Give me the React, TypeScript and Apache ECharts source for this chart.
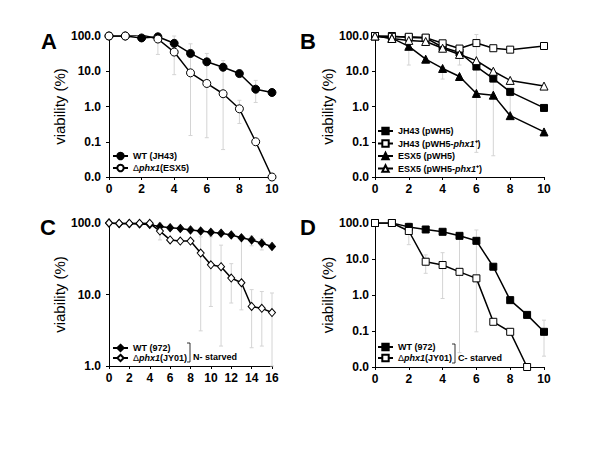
import React, { useEffect, useRef } from "react";
import * as echarts from "echarts";

// ---- Data ----
const xA = [0, 1, 2, 3, 4, 5, 6, 7, 8, 9, 10];
const aWT = [100, 100, 88, 95, 62, 32, 18.5, 13, 8.6, 3.1, 2.5];
const aKO = [100, 100, 108, 82, 35, 9, 4.5, 2.3, 0.86, 0.1, 0.01];
const aErrX = [3, 4, 5, 6, 7, 8, 9];
const aErrLo = [30, 8, 0.15, 0.13, 0.06, 0.33, 1.3];
const aErrHi = [110, 100, 60, 32, 20, 1.5, 5.5];

const xB = [0, 1, 2, 3, 4, 5, 6, 7, 8, 10];
const bJH = [100, 100, 90, 88, 48, 34, 13.6, 6.2, 2.6, 0.91];
const bJHphx = [100, 95, 95, 90, 62, 44, 63, 45, 41, 52];
const bESX = [100, 87, 51, 22, 12, 7.1, 2.35, 2.1, 0.55, 0.19];
const bESXphx = [100, 85, 75, 70, 45, 30, 20, 10, 5.5, 3.8];
const bErrX = [2, 4, 5, 6, 7, 8];
const bErrLo = [15, 6, 15, 0.05, 0.04, 0.5];
const bErrHi = [100, 13, 50, 110, 5, 2];

const xC = [0, 1, 2, 3, 4, 5, 6, 7, 8, 9, 10, 11, 12, 13, 14, 15, 16];
const cWT = [100, 98, 98, 97, 95, 89, 86, 84, 80, 77, 74, 72, 68, 62, 58, 52, 47];
const cKO = [100, 99, 99, 99, 99, 77, 58, 56, 56, 38, 26, 24.5, 17, 14.6, 6.8, 6.4, 5.6];
const cErrX = [5, 9, 10, 11, 12, 13, 14, 15, 16, 15, 14];
const cErrLo = [58, 3.1, 6.8, 1.9, 7.6, 6.1, 1.8, 1.9, 1.0, 42, 48];
const cErrHi = [100, 64, 64, 49, 27, 64, 11.7, 11, 10.5, 60, 66];

const xD = [0, 1, 2, 3, 4, 5, 6, 7, 8, 9, 10];
const dWT = [100, 100, 78, 66, 57, 44, 32, 6.1, 0.72, 0.28, 0.095];
const dKO = [100, 100, 60, 8.4, 6.8, 4.4, 2.9, 0.18, 0.095, 0.01];
const dErrX = [2, 3, 4, 5, 6, 10];
const dErrLo = [25, 4, 0.8, 0.025, 0.095, 0.02];
const dErrHi = [100, 13, 15, 41, 64, 0.2];

const yTicksLog = ["0.0", "0.1", "1.0", "10.0", "100.0"];

const FONT = "'Liberation Sans', Arial, sans-serif";

const pairs = (xs: number[], ys: number[]) => ys.map((y, i) => [xs[i], y]);
const errs = (xs: number[], lo: number[], hi: number[]) => xs.map((x, i) => [x, lo[i], hi[i]]);

const legendNames: Record<string, string> = {
  "A-WT": "{b|WT (JH43)}",
  "A-KO": "{n|Δ}{i|phx1}{b|(ESX5)}",
  "B-1": "{b|JH43 (pWH5)}",
  "B-2": "{b|JH43 (pWH5-}{i|phx1}{b|⁺)}",
  "B-3": "{b|ESX5 (pWH5)}",
  "B-4": "{b|ESX5 (pWH5-}{i|phx1}{b|⁺)}",
  "C-WT": "{b|WT (972)}",
  "C-KO": "{n|Δ}{i|phx1}{b|(JY01)}",
  "D-WT": "{b|WT (972)}",
  "D-KO": "{n|Δ}{i|phx1}{b|(JY01)}",
};

export default function App() {
  const ref = useRef<HTMLDivElement>(null);
  useEffect(() => {
    if (!ref.current) return;
    const chart = echarts.init(ref.current, null, { renderer: "svg" });

    const grids = [
      { left: 109, right: 328, top: 36, bottom: 273 },
      { left: 375, right: 56, top: 36, bottom: 273 },
      { left: 109, right: 328, top: 223, bottom: 84 },
      { left: 375, right: 56, top: 223, bottom: 83 },
    ];
    const xMax = [10, 10, 16, 10];
    const yMin = [0.01, 0.01, 1, 0.01];
    const labelMargin = [8, 6, 8, 6];
    const nameGap = [36, 40, 36, 40];

    const rich = {
      b: { fontSize: 9, fontWeight: "bold", fontFamily: FONT, color: "#000", lineHeight: 10 },
      n: { fontSize: 9, fontWeight: "normal", fontFamily: FONT, color: "#000", lineHeight: 10 },
      i: { fontSize: 9, fontWeight: "bold", fontStyle: "italic", fontFamily: FONT, color: "#000", lineHeight: 10 },
    };

    const lineSeries = (name: string, idx: number, data: number[][], symbol: string, size: any, filled: boolean) => ({
      name,
      type: "line",
      xAxisIndex: idx,
      yAxisIndex: idx,
      data,
      symbol,
      symbolSize: size,
      z: 3,
      lineStyle: { color: "#000", width: 1.5 },
      itemStyle: filled
        ? { color: "#000", borderColor: "#000", borderWidth: 1 }
        : { color: "#fff", borderColor: "#000", borderWidth: 1 },
    });

    const errSeries = (idx: number, data: number[][]) => ({
      type: "custom",
      xAxisIndex: idx,
      yAxisIndex: idx,
      z: 1,
      encode: { x: 0, y: [1, 2] },
      data,
      renderItem: (_p: any, api: any) => {
        const x = api.value(0);
        const p1 = api.coord([x, api.value(1)]);
        const p2 = api.coord([x, api.value(2)]);
        const st = { stroke: "#d4d4d4", lineWidth: 1 };
        return {
          type: "group",
          children: [
            { type: "line", shape: { x1: p1[0], y1: p1[1], x2: p2[0], y2: p2[1] }, style: st },
            { type: "line", shape: { x1: p1[0] - 2, y1: p1[1], x2: p1[0] + 2, y2: p1[1] }, style: st },
            { type: "line", shape: { x1: p2[0] - 2, y1: p2[1], x2: p2[0] + 2, y2: p2[1] }, style: st },
          ],
        };
      },
    });

    const legendBase = {
      orient: "vertical",
      itemWidth: 15,
      itemHeight: 8,
      padding: 0,
      textStyle: { fontSize: 9, fontWeight: "bold", fontFamily: FONT, color: "#000", lineHeight: 10, rich },
      formatter: (n: string) => legendNames[n] || n,
      selectedMode: false,
    };

    const letter = (t: string, x: number, y: number) => ({
      type: "text",
      x,
      y,
      style: { text: t, font: `bold 22px ${FONT}`, fill: "#000", textAlign: "center", textVerticalAlign: "middle" },
    });

    const bracket = (x: number, y1: number, y2: number) => ({
      type: "polyline",
      shape: { points: [[x, y1], [x + 3, y1], [x + 3, y2], [x, y2]] },
      style: { stroke: "#000", lineWidth: 0.8, fill: "none" },
    });

    const option: any = {
      animation: false,
      backgroundColor: "#fff",
      textStyle: { fontFamily: FONT },
      grid: grids,
      xAxis: grids.map((_, i) => ({
        type: "value",
        gridIndex: i,
        min: 0,
        max: xMax[i],
        interval: 2,
        axisLine: { show: true, onZero: false, lineStyle: { color: "#000", width: 1 } },
        axisTick: { show: true, length: 3, lineStyle: { color: "#000" } },
        axisLabel: { color: "#000", fontWeight: "bold", fontSize: 12, fontFamily: FONT, margin: 6 },
        splitLine: { show: false },
      })),
      yAxis: grids.map((_, i) => ({
        type: "log",
        logBase: 10,
        gridIndex: i,
        min: yMin[i],
        max: 100,
        name: "viability (%)",
        nameLocation: "middle",
        nameGap: nameGap[i],
        nameTextStyle: { fontSize: 15, color: "#000", fontFamily: FONT },
        axisLine: { show: true, lineStyle: { color: "#000", width: 1 } },
        axisTick: { show: true, length: 3, lineStyle: { color: "#000" } },
        axisLabel: {
          color: "#000",
          fontWeight: "bold",
          fontSize: 12,
          fontFamily: FONT,
          margin: labelMargin[i],
          formatter: (v: number) => yTicksLog[Math.round(Math.log10(v)) + 2],
        },
        splitLine: { show: false },
      })),
      legend: [
        { ...legendBase, left: 112, top: 151, itemGap: 2, data: ["A-WT", "A-KO"] },
        { ...legendBase, left: 377, top: 126, itemGap: 2.5, data: ["B-1", "B-2", "B-3", "B-4"] },
        { ...legendBase, left: 112, top: 343, itemGap: 0, data: ["C-WT", "C-KO"] },
        { ...legendBase, left: 377, top: 342, itemGap: 1, data: ["D-WT", "D-KO"] },
      ],
      series: [
        errSeries(0, errs(aErrX, aErrLo, aErrHi)),
        lineSeries("A-WT", 0, pairs(xA, aWT), "circle", 8, true),
        lineSeries("A-KO", 0, pairs(xA, aKO), "circle", 8, false),
        errSeries(1, errs(bErrX, bErrLo, bErrHi)),
        lineSeries("B-1", 1, pairs(xB, bJH), "rect", 7, true),
        lineSeries("B-2", 1, pairs(xB, bJHphx), "rect", 7, false),
        lineSeries("B-3", 1, pairs(xB, bESX), "triangle", 8, true),
        lineSeries("B-4", 1, pairs(xB, bESXphx), "triangle", 8, false),
        errSeries(2, errs(cErrX, cErrLo, cErrHi)),
        lineSeries("C-WT", 2, pairs(xC, cWT), "diamond", [7, 8], true),
        lineSeries("C-KO", 2, pairs(xC, cKO), "diamond", [7, 8], false),
        errSeries(3, errs(dErrX, dErrLo, dErrHi)),
        lineSeries("D-WT", 3, pairs(xD, dWT), "rect", 7, true),
        lineSeries("D-KO", 3, pairs(xD, dKO), "rect", 7, false),
      ],
      graphic: [
        letter("A", 49, 41),
        letter("B", 308, 41),
        letter("C", 48, 227),
        letter("D", 308, 227),
        bracket(187, 343, 362),
        bracket(452, 344, 363),
        {
          type: "text",
          x: 193,
          y: 357,
          style: { text: "N- starved", font: `bold 9px ${FONT}`, fill: "#000", textVerticalAlign: "middle" },
        },
        {
          type: "text",
          x: 458,
          y: 358,
          style: { text: "C- starved", font: `bold 9px ${FONT}`, fill: "#000", textVerticalAlign: "middle" },
        },
      ],
    };
    chart.setOption(option);
    return () => chart.dispose();
  }, []);
  return <div ref={ref} style={{ position: "absolute", left: 0, top: 0, width: 600, height: 450 }} />;
}
